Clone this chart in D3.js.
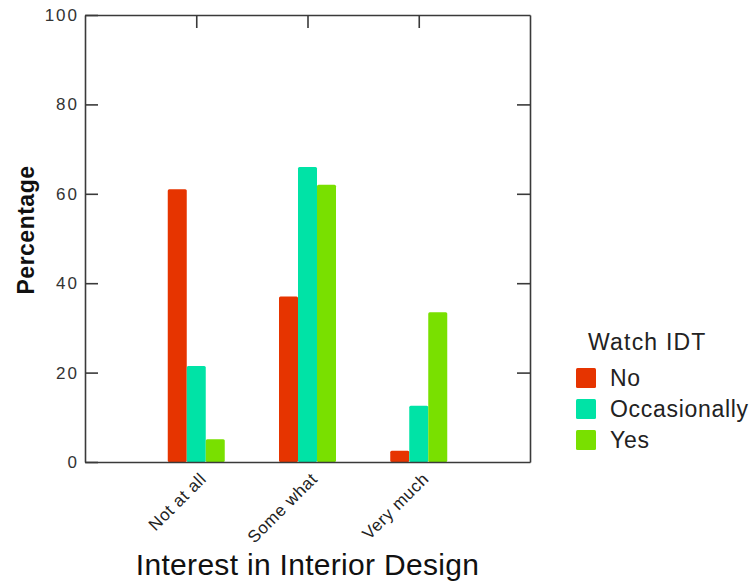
<!DOCTYPE html>
<html>
<head>
<meta charset="utf-8">
<script src="https://cdn.jsdelivr.net/npm/d3@7"></script>
<style>
  body { margin: 0; background: #fff; }
  text { font-family: "Liberation Sans", Arial, sans-serif; }
</style>
</head>
<body>
<div id="chart"></div>
<script>
// data
var categories = ["Not at all", "Some what", "Very much"];
var seriesNames = ["No", "Occasionally", "Yes"];
var noVals = [61, 37, 2.5];
var occasionallyVals = [21.5, 66, 12.6];
var yesVals = [5.1, 62, 33.5];
var yTicks = [0, 20, 40, 60, 80, 100];

var colors = ["#e63400", "#00e3a6", "#79e000"];
var seriesVals = [noVals, occasionallyVals, yesVals];

var W = 753, H = 584;
var plot = {left: 85, right: 530, top: 15, bottom: 462};

var svg = d3.select("#chart").append("svg")
  .attr("width", W).attr("height", H);
svg.append("rect").attr("width", W).attr("height", H).attr("fill", "#fff");

var x = d3.scalePoint()
  .domain(categories)
  .range([plot.left, plot.right])
  .padding(1);
var sub = d3.scaleBand()
  .domain(seriesNames)
  .range([-28.5, 28.5]);
var y = d3.scaleLinear()
  .domain([0, 100])
  .range([plot.bottom, plot.top]);

// bars
seriesNames.forEach(function(s, i) {
  svg.append("g").selectAll("rect")
    .data(categories)
    .enter()
    .append("rect")
      .attr("x", function(d) { return x(d) + sub(s); })
      .attr("y", function(d, j) { return y(seriesVals[i][j]); })
      .attr("width", sub.bandwidth())
      .attr("height", function(d, j) { return y(0) - y(seriesVals[i][j]); })
      .attr("rx", 1.5)
      .attr("fill", colors[i]);
});

// frame axes
var axisColor = "#3a3a3a";
var left = svg.append("g")
  .attr("transform", "translate(" + plot.left + ",0)")
  .call(d3.axisLeft(y).tickValues(yTicks).tickSizeInner(-13).tickSizeOuter(0).tickPadding(6));
left.selectAll("text")
  .style("font-size", "17px")
  .style("letter-spacing", "2px")
  .attr("fill", "#333");

var right = svg.append("g")
  .attr("transform", "translate(" + plot.right + ",0)")
  .call(d3.axisRight(y).tickValues(yTicks.slice(1, 5)).tickSizeInner(-13).tickSizeOuter(0).tickFormat(""));

var top = svg.append("g")
  .attr("transform", "translate(0," + plot.top + ")")
  .call(d3.axisTop(x).tickSizeInner(-13).tickSizeOuter(0).tickFormat(""));

var bottom = svg.append("g")
  .attr("transform", "translate(0," + plot.bottom + ")")
  .call(d3.axisBottom(x).tickSize(0).tickFormat(""));

svg.selectAll(".domain, .tick line")
  .attr("stroke", axisColor)
  .attr("stroke-width", 1.6);

// rotated category labels
svg.append("g").selectAll("text")
  .data(categories)
  .enter()
  .append("text")
    .attr("transform", function(d) { return "translate(" + (x(d) + 11) + "," + (plot.bottom + 18) + ") rotate(-45)"; })
    .attr("text-anchor", "end")
    .style("font-size", "17px")
    .style("letter-spacing", "0.6px")
    .attr("fill", "#222")
    .text(function(d) { return d; });

// axis titles
svg.append("text")
  .attr("x", (plot.left + plot.right) / 2)
  .attr("y", 575)
  .attr("text-anchor", "middle")
  .style("font-size", "30px")
  .style("letter-spacing", "0.3px")
  .attr("fill", "#111")
  .text("Interest in Interior Design");

svg.append("text")
  .attr("transform", "translate(34," + 230 + ") rotate(-90)")
  .attr("text-anchor", "middle")
  .style("font-size", "23px")
  .style("font-weight", "bold")
  .style("letter-spacing", "0.5px")
  .attr("fill", "#111")
  .text("Percentage");

// legend
var legend = svg.append("g");
legend.append("text")
  .attr("x", 588).attr("y", 350)
  .style("font-size", "23px")
  .style("letter-spacing", "1.2px")
  .attr("fill", "#222")
  .text("Watch IDT");
seriesNames.forEach(function(s, i) {
  legend.append("rect")
    .attr("x", 576).attr("y", 368 + i * 31)
    .attr("width", 20).attr("height", 20)
    .attr("rx", 1.5)
    .attr("fill", colors[i]);
  legend.append("text")
    .attr("x", 610).attr("y", 386 + i * 31)
    .style("font-size", "23px")
    .style("letter-spacing", "0.7px")
    .attr("fill", "#222")
    .text(s);
});
</script>
</body>
</html>
